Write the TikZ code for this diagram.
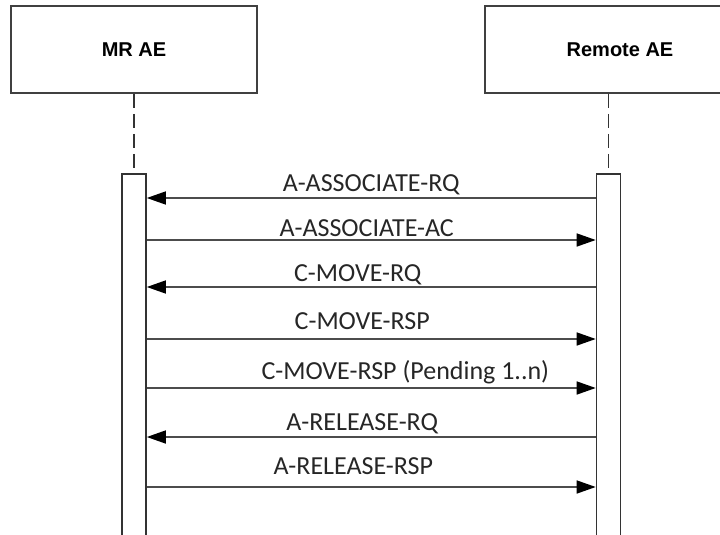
\documentclass[tikz,border=0pt]{standalone}
\usepackage{fontspec}
\setmainfont{Carlito}
\newfontfamily\headfont{Liberation Sans}
\usetikzlibrary{arrows.meta}

\tikzset{
	actor/.style={rectangle,draw=black!75,line width=1.5pt,minimum height=87pt,font=\headfont\bfseries\fontsize{20}{24}\selectfont},
	bar/.style={rectangle,draw=black!80,line width=1.6pt,fill=white,minimum width=24pt,minimum height=380pt,anchor=north,inner sep=0pt},
	life/.style={draw=black!80,line width=1.6pt,dash pattern=on 14pt off 6pt},
	msg/.style={-{Triangle[length=19pt,width=13pt,color=black]},draw=black!70,line width=1.5pt},
	lbl/.style={anchor=base,inner sep=0pt,text=black!85,font=\fontsize{26}{30}\selectfont}
}

\begin{document}
\begin{tikzpicture}[x=1pt,y=-1pt]
	\useasboundingbox (0,0) rectangle (720,535);

	\node[actor,minimum width=246pt] (mrAE) at (134,49.5) {MR AE};
	\node[actor,minimum width=270pt] (remAE) at (620,49.5) {Remote AE};

	\node[bar] (mrBar) at (134,173) {};
	\node[bar] (remBar) at (608.5,173) {};
		\draw[life] (mrAE) -- (mrBar);
		\draw[life] (remAE.south -| remBar) -- (remBar);

	% association
	\coordinate (m1) at (0,198);
		\draw[msg] (remBar.west |- m1) -- node[lbl,pos=.50,yshift=7pt] (tAssocRq) {A-ASSOCIATE-RQ} (mrBar.east |- m1);
	\coordinate (m2) at (0,240);
		\draw[msg] (mrBar.east |- m2) -- node[lbl,pos=.49,yshift=4pt] (tAssocAc) {A-ASSOCIATE-AC} (remBar.west |- m2);

	% move
	\coordinate (m3) at (0,287);
		\draw[msg] (remBar.west |- m3) -- node[lbl,pos=.53,yshift=6pt] (tMoveRq) {C-MOVE-RQ} (mrBar.east |- m3);
	\coordinate (m4) at (0,339);
		\draw[msg] (mrBar.east |- m4) -- node[lbl,pos=.48,yshift=10pt] (tMoveRsp) {C-MOVE-RSP} (remBar.west |- m4);
	\coordinate (m5) at (0,388);
		\draw[msg] (mrBar.east |- m5) -- node[lbl,pos=.576,yshift=9pt] (tMovePend) {C-MOVE-RSP (Pending 1..n)} (remBar.west |- m5);

	% release
	\coordinate (m6) at (0,437);
		\draw[msg] (remBar.west |- m6) -- node[lbl,pos=.52,yshift=7pt] (tRelRq) {A-RELEASE-RQ} (mrBar.east |- m6);
	\coordinate (m7) at (0,487);
		\draw[msg] (mrBar.east |- m7) -- node[lbl,pos=.46,yshift=13pt] (tRelRsp) {A-RELEASE-RSP} (remBar.west |- m7);
\end{tikzpicture}
\end{document}
